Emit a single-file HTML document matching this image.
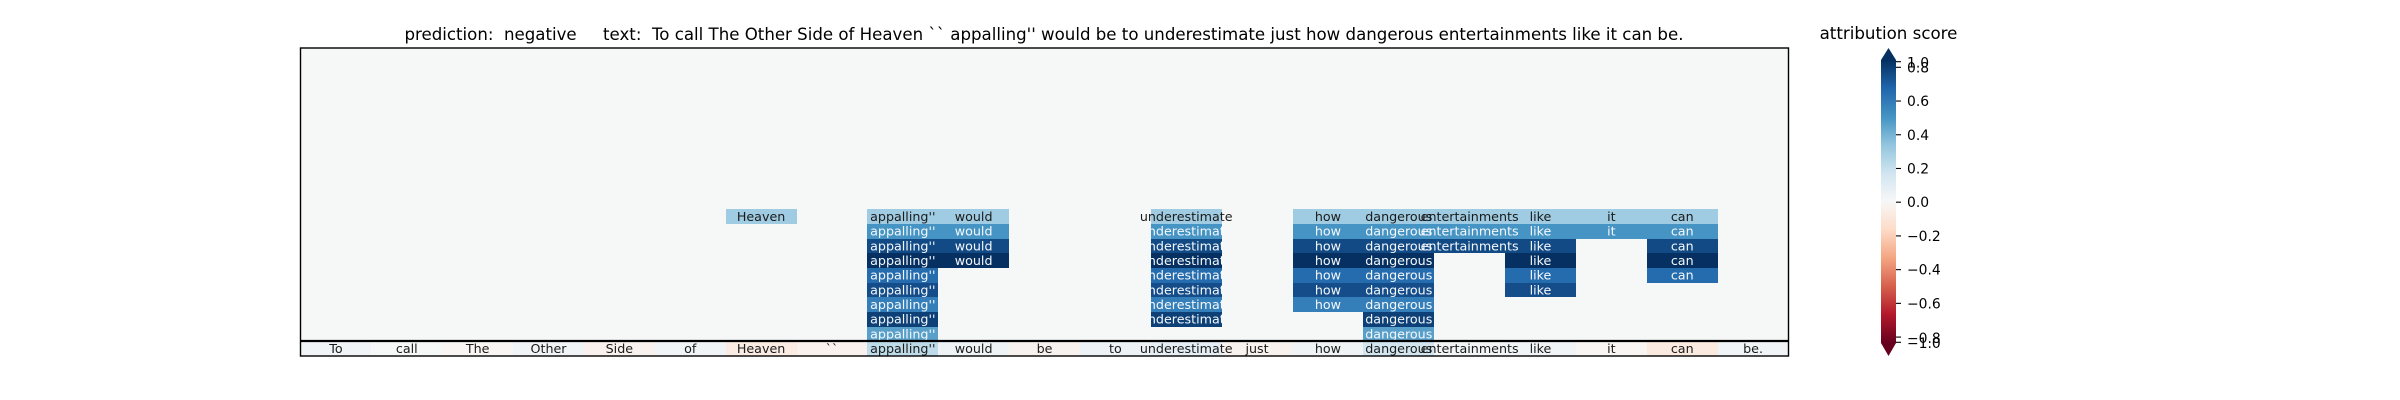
<!DOCTYPE html>
<html lang="en">
<head>
<meta charset="utf-8">
<title>Attribution heatmap</title>
<style>
html,body{margin:0;padding:0;background:#fff;width:2400px;height:400px;overflow:hidden}
svg{display:block}
text{font-family:"DejaVu Sans","Liberation Sans",sans-serif;white-space:pre}
</style>
</head>
<body>
<svg id="chart" xmlns="http://www.w3.org/2000/svg" width="2400" height="400" viewBox="0 0 2400 400" xml:space="preserve">
<g id="cells"></g>
<g id="labels"></g>
<rect x="300.5" y="48" width="1488" height="308" fill="none" stroke="#000" stroke-width="1.4"/>
<line x1="300" x2="1789" y1="341" y2="341" stroke="#000" stroke-width="2.2"/>
<text x="1044" y="40" font-size="16.62" text-anchor="middle" fill="#000">prediction:  negative     text:  To call The Other Side of Heaven `` appalling'' would be to underestimate just how dangerous entertainments like it can be.</text>
<text x="1888.5" y="39" font-size="16.67" text-anchor="middle" fill="#000">attribution score</text>
<g id="colorbar"></g>
<g id="colorbar-ticks"></g>
</svg>
<script>
const tokens = ["To","call","The","Other","Side","of","Heaven","``","appalling''","would","be","to","underestimate","just","how","dangerous","entertainments","like","it","can","be."];
const blankRow = [0,0,0,0,0,0,0,0,0,0,0,0,0,0,0,0,0,0,0,0,0];
const row9 = [0,0,0,0,0,0,0.3,0,0.3,0.3,0,0,0.3,0,0.3,0.3,0.3,0.3,0.3,0.3,0];
const row8 = [0,0,0,0,0,0,0,0,0.5,0.5,0,0,0.5,0,0.5,0.5,0.5,0.5,0.5,0.5,0];
const row7 = [0,0,0,0,0,0,0,0,0.76,0.76,0,0,0.76,0,0.76,0.76,0.76,0.76,0,0.76,0];
const row6 = [0,0,0,0,0,0,0,0,0.84,0.84,0,0,0.84,0,0.84,0.84,0,0.84,0,0.84,0];
const row5 = [0,0,0,0,0,0,0,0,0.65,0,0,0,0.65,0,0.65,0.65,0,0.65,0,0.65,0];
const row4 = [0,0,0,0,0,0,0,0,0.75,0,0,0,0.75,0,0.75,0.75,0,0.75,0,0,0];
const row3 = [0,0,0,0,0,0,0,0,0.58,0,0,0,0.58,0,0.58,0.58,0,0,0,0,0];
const row2 = [0,0,0,0,0,0,0,0,0.79,0,0,0,0.79,0,0,0.79,0,0,0,0,0];
const row1 = [0,0,0,0,0,0,0,0,0.46,0,0,0,0,0,0,0.46,0,0,0,0,0];
const row0 = [0.025,0.004,-0.015,0.025,-0.035,0.025,-0.07,-0.035,0.22,0.04,-0.03,0.05,0.08,-0.03,0.035,0.16,0.02,0.03,-0.015,-0.08,0.03];
const colorbarTicks = [1.0,0.8,0.6,0.4,0.2,0,-0.2,-0.4,-0.6,-0.8,-1.0];
const anchorColors = ["#67001f","#b2182b","#d6604d","#f4a582","#fddbc7","#f7f7f7","#d1e5f0","#92c5de","#4393c3","#2166ac","#053061"];

const heatRows = [row0,row1,row2,row3,row4,row5,row6,row7,row8,row9];
for (let k = 10; k < 21; k++) heatRows.push(blankRow);

const NS = "http://www.w3.org/2000/svg";
const plotLeft = 300.5, plotRight = 1788.5, plotTop = 48, plotBottom = 356;
const cellW = (plotRight - plotLeft) / tokens.length;
const cellH = (plotBottom - plotTop) / heatRows.length;
const xScale = i => plotLeft + i * cellW;
const yScale = k => plotBottom - (k + 1) * cellH;

function hexToRgb(h){return [1,3,5].map(i=>parseInt(h.substr(i,2),16));}
function cmap(t){
  t = Math.max(0, Math.min(1, t));
  const p = t * (anchorColors.length - 1);
  const i = Math.min(Math.floor(p), anchorColors.length - 2);
  const f = p - i;
  const a = hexToRgb(anchorColors[i]), b = hexToRgb(anchorColors[i + 1]);
  return "rgb(" + a.map((c, n) => Math.round(c + (b[n] - c) * f)).join(",") + ")";
}
const normScale = v => 0.5 + v / (2 * 0.84);

const cellsG = document.getElementById("cells");
const labelsG = document.getElementById("labels");
heatRows.forEach((row, k) => {
  row.forEach((v, i) => {
    const x0 = Math.round(xScale(i)), x1 = Math.round(xScale(i + 1));
    const y0 = Math.round(yScale(k)), y1 = Math.round(yScale(k - 1));
    const r = document.createElementNS(NS, "rect");
    r.setAttribute("x", x0);
    r.setAttribute("y", y0);
    r.setAttribute("width", x1 - x0);
    r.setAttribute("height", y1 - y0);
    r.setAttribute("fill", v === 0 ? "#f6f7f7" : cmap(normScale(v)));
    
    
    cellsG.appendChild(r);
    if (v !== 0) {
      const t = document.createElementNS(NS, "text");
      t.setAttribute("x", xScale(i) + cellW / 2);
      t.setAttribute("y", yScale(k) + cellH / 2 + 4.3);
      t.setAttribute("font-size", "12.7");
      t.setAttribute("text-anchor", "middle");
      t.setAttribute("fill", v >= 0.42 ? "#f5f8fb" : "#1a1a1a");
      t.textContent = tokens[i];
      
      
      labelsG.appendChild(t);
    }
  });
});

const barLeft = 1881, barRight = 1896, barTop = 60, barBottom = 343;
const barG = document.getElementById("colorbar");
const tickG = document.getElementById("colorbar-ticks");
for (let y = barTop; y < barBottom; y++) {
  const b = document.createElementNS(NS, "rect");
  b.setAttribute("x", barLeft);
  b.setAttribute("y", y);
  b.setAttribute("width", barRight - barLeft);
  b.setAttribute("height", 1.2);
  b.setAttribute("fill", cmap((barBottom - y - 0.5) / (barBottom - barTop)));
  
  
  barG.appendChild(b);
}
const upArrow = document.createElementNS(NS, "polygon");
upArrow.setAttribute("points", barLeft + "," + barTop + " " + (barLeft + barRight) / 2 + ",48 " + barRight + "," + barTop);
upArrow.setAttribute("fill", anchorColors[10]);


barG.appendChild(upArrow);
const downArrow = document.createElementNS(NS, "polygon");
downArrow.setAttribute("points", barLeft + "," + barBottom + " " + (barLeft + barRight) / 2 + ",356 " + barRight + "," + barBottom);
downArrow.setAttribute("fill", anchorColors[0]);


barG.appendChild(downArrow);

function tickY(v){
  if (v > 0.9) return 61.7;
  if (v < -0.9) return 342.3;
  return 202.2 - v * 168.6;
}
function labelOffset(v){
  if (v > 0.9 || v < -0.7) return 5.8;
  return 5;
}
colorbarTicks.forEach(v => {
  const y = tickY(v);
  const l = document.createElementNS(NS, "line");
  l.setAttribute("x1", barRight);
  l.setAttribute("x2", barRight + 5);
  l.setAttribute("y1", y);
  l.setAttribute("y2", y);
  l.setAttribute("stroke", "#000");
  l.setAttribute("stroke-width", "1.1");
  
  
  tickG.appendChild(l);
  const t = document.createElementNS(NS, "text");
  t.setAttribute("x", 1907);
  t.setAttribute("y", y + labelOffset(v));
  t.setAttribute("font-size", "13.89");
  t.setAttribute("fill", "#000");
  t.textContent = (v < 0 ? "\u2212" : "") + Math.abs(v).toFixed(1);
  
  
  tickG.appendChild(t);
});
</script>
</body>
</html>
